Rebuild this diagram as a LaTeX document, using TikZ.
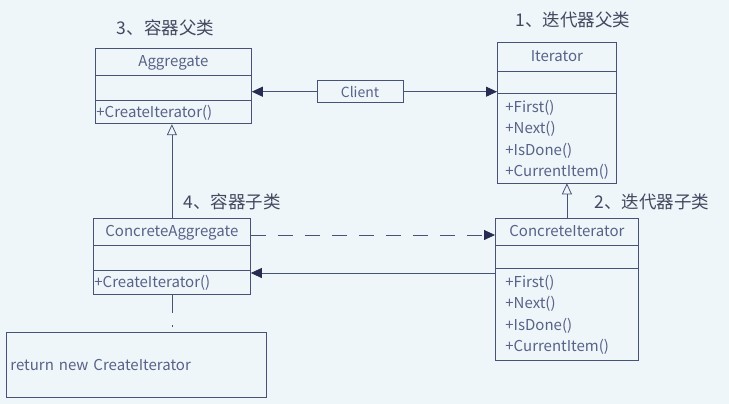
\documentclass[tikz,border=0pt]{standalone}
\usepackage{fontspec}
\setmainfont{Noto Sans CJK SC}
\usetikzlibrary{shapes.multipart, arrows.meta, positioning}
\definecolor{bgcol}{RGB}{238,246,250}
\definecolor{linecol}{RGB}{72,82,118}
\definecolor{textcol}{RGB}{88,98,135}
\definecolor{tipcol}{RGB}{38,44,82}
\definecolor{labelcol}{RGB}{68,72,95}
\newcommand{\umlrow}[2]{\rule[-#2]{0pt}{\dimexpr#1+#2\relax}}
\newcommand{\umltitle}[1]{\umlrow{18pt}{8pt}\hfill#1\hfill\null}
\tikzset{%
>={Triangle[length=11pt,width=10pt,color=tipcol]},
% Specifications for style of class boxes and notes:
umlclass/.style = {draw=linecol, rectangle split, rectangle split parts=3, inner ysep=0pt, inner xsep=1pt, anchor=north west, text=textcol, font=\fontsize{15}{21.3}\selectfont},
umlnote/.style = {draw=linecol, anchor=north west, text=textcol, font=\fontsize{15}{18}\selectfont},
caption/.style = {text=labelcol, inner sep=0pt, font=\fontsize{17.5}{20}\selectfont},
assoc/.style = {draw=linecol, ->},
dep/.style = {draw=linecol, ->, dash pattern=on 15pt off 12pt},
inherit/.style = {draw=linecol, -{Triangle[open,length=11pt,width=10pt,color=linecol,fill=bgcol]}},
notelink/.style = {draw=linecol, dash pattern=on 18pt off 12pt on 2pt off 20pt},
}

\begin{document}
\begin{tikzpicture}[x=1pt, y=-1pt, line width=0.8pt, node distance=1cm]
        \fill[bgcol] (0,0) rectangle (729,404);
        \useasboundingbox (0,0) rectangle (729,404);
        % Specification of class boxes (position, etc.)
        \node (agg) [umlclass, text width=154pt] at (95,48)
            {\umltitle{Aggregate}\nodepart{two}\umlrow{24pt}{0pt}\nodepart{three}\umlrow{17pt}{6pt}+CreateIterator()};
        \node (iter) [umlclass, inner xsep=8pt, text width=103pt] at (497,42)
            {\umlrow{19pt}{9pt}\hfill Iterator\hfill\null\nodepart{two}\umlrow{21.7pt}{0pt}\nodepart{three}\umlrow{18.5pt}{0pt}+First()\\+Next()\\+IsDone()\\+CurrentItem()\umlrow{0pt}{6pt}};
        \node (cagg) [umlclass, text width=155pt] at (93,218)
            {\umltitle{ConcreteAggregate}\nodepart{two}\umlrow{24pt}{0pt}\nodepart{three}\umlrow{17pt}{7pt}+CreateIterator()};
        \node (citer) [umlclass, inner xsep=10pt, text width=123pt] at (495,218)
            {\umltitle{ConcreteIterator}\nodepart{two}\umlrow{22pt}{0pt}\nodepart{three}\umlrow{19pt}{0pt}+First()\\+Next()\\+IsDone()\\+CurrentItem()\umlrow{0pt}{9pt}};
        \node (client) [draw=linecol, text=textcol, font=\fontsize{14}{16}\selectfont, minimum width=86pt, minimum height=22pt, inner sep=0pt] at (360,91.7) {Client};
        \node (note) [umlnote, minimum width=260pt, minimum height=65pt, text width=252pt, inner xsep=4pt] at (6,332) {return new CreateIterator};
        % captions
        \node (aggcap) [caption, above=12pt of agg.north, xshift=-8pt] {3、容器父类};
        \node (itercap) [caption, above=14pt of iter.north, xshift=16pt] {1、迭代器父类};
        \node (caggcap) [caption, above=8pt of cagg.north, xshift=60pt] {4、容器子类};
        \node (citercap) [caption, above=8pt of citer.north, xshift=85pt] {2、迭代器子类};
        \coordinate (depstart) at ([yshift=-17pt]cagg.north east);
        \coordinate (retend) at ([yshift=-3pt]cagg.two split east);

        \draw [assoc] (client.west) -- (client.west -| agg.east);
        \draw [assoc] (client.east) -- (client.east -| iter.west);
        \draw [inherit] (cagg.north) -- (cagg.north |- agg.south);
        \draw [inherit] (citer.north) -- (citer.north |- iter.south);
        \draw [dep] (depstart) -- (depstart -| citer.west);
        \draw [assoc] (retend -| citer.west) -- (retend);
        \draw [notelink] (cagg.south) -- (cagg.south |- note.north);
    \end{tikzpicture}
\end{document}
